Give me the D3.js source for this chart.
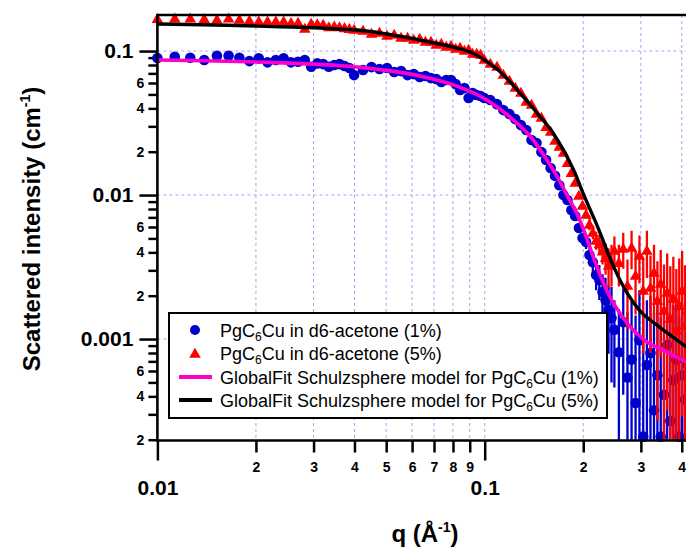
<!DOCTYPE html>
<html><head><meta charset="utf-8">
<script src="https://cdn.jsdelivr.net/npm/d3@7"></script>
<style>
body{margin:0;background:#fff}
svg{display:block}
text{font-family:"Liberation Sans",Arial,sans-serif}
</style>
</head><body>
<svg id="c" width="686" height="549"></svg>
<script>
// ---------- data ----------
const qLow = [0.0100,0.0113,0.0126,0.0139,0.0152,0.0165,0.0178,0.0191,0.0204,0.0217,0.0230,0.0243,0.0256,0.0269,0.0282,0.0295,0.0308,0.0321,0.0334,0.0347,0.0360,0.0373,0.0386,0.0399,
  0.0425,0.0451,0.0477,0.0503,0.0529,0.0555,0.0581,0.0607,0.0633,0.0659,0.0685,0.0711,0.0737,0.0763,0.0789,0.0815,0.0841,0.0867,0.0893,0.0919,0.0945,0.0971,0.0997];
const blueLow = [0.0894,0.0913,0.0899,0.0866,0.0928,0.0928,0.0899,0.0852,0.0890,0.0835,0.0866,0.0890,0.0835,0.0843,0.0866,0.0778,0.0821,0.0812,0.0778,0.0800,0.0812,0.0787,0.0762,0.0681,
  0.0738,0.0774,0.0750,0.0762,0.0715,0.0726,0.0681,0.0692,0.0660,0.0671,0.0649,0.0639,0.0609,0.0629,0.0629,0.0590,0.0536,0.0553,0.0472,0.0511,0.0495,0.0487,0.0472];
const redLow = [0.1687,0.1703,0.1703,0.1687,0.1668,0.1703,0.1668,0.1641,0.1623,0.1623,0.1623,0.1623,0.1582,0.1590,0.1444,0.1565,0.1552,0.1540,0.1479,0.1500,0.1480,0.1460,0.1440,0.1420,
  0.1399,0.1334,0.1355,0.1291,0.1312,0.1251,0.1251,0.1212,0.1231,0.1173,0.1173,0.1118,0.1136,0.1083,0.1101,0.1049,0.1066,0.1016,0.1032,0.0968,0.0968,0.0953,0.0880];

const qHigh = [0.104,0.109,0.114,0.119,0.124,0.129,0.134,0.139,0.144,0.149,0.154,0.159,0.164,0.169,0.174,0.179,0.184,0.189,0.194,0.199,
  0.204,0.209,0.214,0.219,0.224,0.229,0.234,0.239,0.244,
  0.249,0.257,0.265,0.273,0.281,0.289,0.297,0.305,0.313,0.321,0.329,0.337,0.345,0.353,0.361,0.369,0.377,0.385,0.393,0.401,0.409,0.417];
const blueHigh = [0.0457,0.0428,0.0389,0.0365,0.0337,0.0306,0.0283,0.0241,0.0230,0.0199,
  0.0175,0.0154,0.0136,0.0117,0.0100,0.00923,0.00787,0.00715,0.00590,0.00503,
  0.00472,0.00383,0.00342,0.00278,0.00257,0.00212,0.00187,0.00159,0.00140,
  0.00116,0.00081,0.00131,0.00054,0.00072,0.00036,0.00098,0.00021,0.00066,0.00080,0.00032,
  0.00056,0.00021,0.00041,0.00091,0.00027,0.00052,0.00072,0.00021,0.00056,0.00038,0.00066];
const blueHighErr = [0.0005,0.0005,0.0005,0.0005,0.0005,0.0005,0.0005,0.0005,0.0005,0.0005,0.0005,0.0005,0.0005,0.0005,
  0.0004,0.0004,0.0004,0.0004,0.0004,0.0004,
  0.0005,0.0005,0.0006,0.0006,0.0007,0.0007,0.0008,0.0008,0.0009,
  0.0007,0.0008,0.0009,0.0010,0.0011,0.0011,0.0012,0.0012,0.0012,0.0012,0.0012,
  0.0012,0.0012,0.0012,0.0013,0.0012,0.0012,0.0012,0.0012,0.0012,0.0012,0.0012];
const redHigh = [0.0825,0.0787,0.0692,0.0629,0.0562,0.0519,0.0450,0.0428,0.0371,0.0348,
  0.0301,0.0278,0.0241,0.0219,0.0199,0.0169,0.0144,0.0123,0.0100,0.00852,
  0.00738,0.00629,0.00553,0.00487,0.00460,0.00410,0.00370,0.00327,0.00342,
  0.00415,0.00342,0.00428,0.00237,0.00435,0.00278,0.00383,0.00219,0.00415,0.00230,0.00292,
  0.00187,0.00245,0.00159,0.00212,0.00140,0.00193,0.00116,0.00172,0.00219,0.00125,0.00159];
const redHighErr = [0.0006,0.0006,0.0006,0.0006,0.0006,0.0006,0.0006,0.0006,0.0006,0.0006,0.0006,0.0006,0.0006,0.0006,0.0006,0.0006,0.0006,0.0006,
  0.0005,0.0005,0.0005,0.0006,0.0006,0.0007,
  0.0007,0.0008,0.0009,0.0010,0.0011,
  0.0010,0.0011,0.0012,0.0012,0.0013,0.0013,0.0014,0.0014,0.0015,0.0015,0.0016,
  0.0016,0.0017,0.0017,0.0018,0.0018,0.0018,0.0019,0.0019,0.0019,0.0020,0.0020];

const fit1Q = [0.0100,0.02015,0.04071,0.06345,0.08231,0.1016,0.1195,0.1375,0.1550,0.1675,0.1784,0.1914,0.1997,0.2142,0.2298,0.2414,0.2537,0.2721,0.3045,0.3606,0.42];
const fit1I = [0.0866,0.0839,0.0774,0.0671,0.0571,0.0457,0.0348,0.0257,0.0175,0.0131,0.0100,0.00738,0.00590,0.00377,0.00249,0.00196,0.00162,0.00129,0.00100,0.000812,0.00068];
const fit5Q = [0.0100,0.02015,0.04071,0.06345,0.08231,0.0902,0.1016,0.1090,0.1282,0.1507,0.1617,0.1760,0.1888,0.1997,0.2209,0.2465,0.2721,0.2981,0.3360,0.3869,0.42];
const fit5I = [0.1540,0.1491,0.1399,0.1192,0.1049,0.0985,0.0845,0.0750,0.0511,0.0332,0.0270,0.0196,0.0142,0.0103,0.00609,0.00326,0.00209,0.00157,0.00125,0.000984,0.00086];

const xMajorTicks = [0.01,0.1];
const xMajorLabels = ["0.01","0.1"];
const xMinorTicks = [0.02,0.03,0.04,0.05,0.06,0.07,0.08,0.09,0.2,0.3,0.4];
const xMinorLabels = ["2","3","4","5","6","7","8","9","2","3","4"];
const yMajorTicks = [0.001,0.01,0.1];
const yMajorLabels = ["0.001","0.01","0.1"];
const yMinorTicks = [0.0002,0.0003,0.0004,0.0005,0.0006,0.0007,0.0008,0.0009,
  0.002,0.003,0.004,0.005,0.006,0.007,0.008,0.009,
  0.02,0.03,0.04,0.05,0.06,0.07,0.08,0.09];
const yMinorLabels = ["2","","4","","6","","","","2","","4","","6","","","","2","","4","","6","","",""];
const legendLabels = ["PgC_6Cu in d6-acetone (1%)","PgC_6Cu in d6-acetone (5%)",
  "GlobalFit Schulzsphere model for PgC_6Cu (1%)","GlobalFit Schulzsphere model for PgC_6Cu (5%)"];

// ---------- chart ----------
const BLUE="#0000cc", RED="#ff0000", MAG="#ff00cc", BLK="#000000";
const svg = d3.select("#c");
const x = d3.scaleLog().domain([0.01,0.42]).range([157.4,688.7]);
const y = d3.scaleLog().domain([0.0002,0.178]).range([439.7,15]);
const [x0,x1] = x.range(), [yb,yt] = y.range();

svg.append("defs").append("clipPath").attr("id","clip")
  .append("rect").attr("x",x0).attr("y",yt).attr("width",x1-x0).attr("height",yb-yt);

// grid
const grid = svg.append("g").attr("stroke","#a6a6f2").attr("stroke-width",1).attr("stroke-dasharray","3,3");
grid.selectAll("line.gx").data(xMinorTicks.concat([0.1])).join("line")
  .attr("x1",d=>x(d)).attr("x2",d=>x(d)).attr("y1",yt).attr("y2",yb);
grid.selectAll("line.gy").data(yMajorTicks).join("line")
  .attr("x1",x0).attr("x2",x1).attr("y1",d=>y(d)).attr("y2",d=>y(d));

// axes
function styleAxis(g, fs){
  g.select(".domain").remove();
  g.attr("font-family",null).attr("font-size",null);
  g.selectAll(".tick line").attr("stroke","#000").attr("stroke-width",2.5);
  g.selectAll(".tick text").attr("fill","#000").attr("font-size",fs).attr("font-weight","bold");
}
const axY = yb+0.8;
svg.append("g").attr("transform",`translate(0,${axY})`)
  .call(d3.axisBottom(x).tickValues(xMinorTicks).tickFormat((d,i)=>xMinorLabels[i]).tickSize(12).tickPadding(10).tickSizeOuter(0))
  .call(g=>styleAxis(g,14));
svg.append("g").attr("transform",`translate(0,${axY})`)
  .call(d3.axisBottom(x).tickValues(xMajorTicks).tickFormat((d,i)=>xMajorLabels[i]).tickSize(20).tickPadding(20).tickSizeOuter(0))
  .call(g=>styleAxis(g,21));
svg.append("g").attr("transform",`translate(${x0},0)`)
  .call(d3.axisLeft(y).tickValues(yMinorTicks).tickFormat((d,i)=>yMinorLabels[i]).tickSize(9).tickPadding(4).tickSizeOuter(0))
  .call(g=>styleAxis(g,14));
svg.append("g").attr("transform",`translate(${x0},0)`)
  .call(d3.axisLeft(y).tickValues(yMajorTicks).tickFormat((d,i)=>yMajorLabels[i]).tickSize(18).tickPadding(6).tickSizeOuter(0))
  .call(g=>styleAxis(g,21));

// data layers
const plot = svg.append("g");
function series(qs, vs, es){ return qs.map((q,i)=>({q, v:vs[i], e: es? es[i]:0})); }
const blueData = series(qLow, blueLow).concat(series(qHigh, blueHigh, blueHighErr));
const redData  = series(qLow, redLow).concat(series(qHigh, redHigh, redHighErr));
const ymin = y.domain()[0];
function errBars(data, color){
  plot.append("g").attr("clip-path","url(#clip)").attr("stroke",color).attr("stroke-width",2.3)
    .selectAll("line").data(data.filter(d=>d.e>0)).join("line")
    .attr("x1",d=>x(d.q)).attr("x2",d=>x(d.q))
    .attr("y1",d=>y(d.v+d.e))
    .attr("y2",d=>d.v-d.e>ymin? y(d.v-d.e) : yb+2);
}
errBars(blueData, BLUE);
plot.append("g").attr("fill",BLUE).selectAll("circle").data(blueData).join("circle")
  .attr("cx",d=>x(d.q)).attr("cy",d=>y(d.v)).attr("r",5.3);
errBars(redData, RED);
const tri = d3.symbol().type(d3.symbolTriangle).size(58);
const triShift = 1.4; // centre triangle on its bounding box, as the source software does
plot.append("g").attr("fill",RED).selectAll("path").data(redData).join("path")
  .attr("transform",d=>`translate(${x(d.q)},${y(d.v)+triShift})`).attr("d",tri);

const line = d3.line().x(d=>x(d.q)).y(d=>y(d.v)).curve(d3.curveMonotoneX);
plot.append("path").attr("clip-path","url(#clip)").datum(series(fit1Q,fit1I))
  .attr("d",line).attr("fill","none").attr("stroke",MAG).attr("stroke-width",3.6);
plot.append("path").attr("clip-path","url(#clip)").datum(series(fit5Q,fit5I))
  .attr("d",line).attr("fill","none").attr("stroke",BLK).attr("stroke-width",3.4);

// frame
const fr = svg.append("g").attr("stroke","#000").attr("stroke-width",2.6);
fr.append("line").attr("x1",x0).attr("x2",x0).attr("y1",yt).attr("y2",axY+1.2);
fr.append("line").attr("x1",x0-1.2).attr("x2",x1+2).attr("y1",axY).attr("y2",axY);
fr.append("line").attr("x1",x0-1.2).attr("x2",x1+2).attr("y1",yt).attr("y2",yt);

// legend
const lg = svg.append("g");
lg.append("rect").attr("x",169).attr("y",313).attr("width",438).attr("height",105)
  .attr("fill","#fff").attr("stroke","#000").attr("stroke-width",2);
const rowY = [330,353,377,400];
lg.append("circle").attr("cx",195).attr("cy",rowY[0]).attr("r",5).attr("fill",BLUE);
lg.append("path").attr("transform",`translate(195,${rowY[1]+triShift})`).attr("d",tri).attr("fill",RED);
lg.append("line").attr("x1",179).attr("x2",212).attr("y1",rowY[2]).attr("y2",rowY[2]).attr("stroke",MAG).attr("stroke-width",4);
lg.append("line").attr("x1",179).attr("x2",212).attr("y1",rowY[3]).attr("y2",rowY[3]).attr("stroke",BLK).attr("stroke-width",4);
legendLabels.forEach((s,i)=>{
  const [a,rest] = s.split("_");
  const t = lg.append("text").attr("x",220).attr("y",rowY[i]+6.5).attr("font-size",18).attr("fill","#000");
  t.append("tspan").text(a);
  t.append("tspan").attr("font-size",12).attr("dy",4).text(rest[0]);
  t.append("tspan").attr("dy",-4).text(rest.slice(1));
});

// axis titles
const yt_ = svg.append("text").attr("transform","translate(40,229) rotate(-90)")
  .attr("text-anchor","middle").attr("font-size",24).attr("font-weight","bold").attr("fill","#000");
yt_.append("tspan").text("Scattered intensity (cm");
yt_.append("tspan").attr("font-size",14).attr("dy",-10).text("-1");
yt_.append("tspan").attr("dy",10).text(")");
const xt_ = svg.append("text").attr("x",425).attr("y",542)
  .attr("text-anchor","middle").attr("font-size",24).attr("font-weight","bold").attr("fill","#000");
xt_.append("tspan").text("q (Å");
xt_.append("tspan").attr("font-size",14).attr("dy",-10).text("-1");
xt_.append("tspan").attr("dy",10).text(")");
</script>
</body></html>
